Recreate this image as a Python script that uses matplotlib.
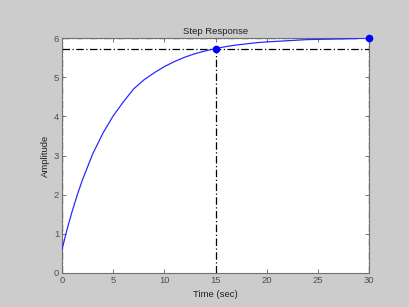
import matplotlib
matplotlib.use("Agg")
import matplotlib.pyplot as plt

# Data
time = [0, 0.5, 1, 1.5, 2, 3, 4, 5, 6, 7, 8, 9, 10, 11, 12, 13, 14, 15,
        16, 17, 18, 19, 20, 22, 24, 26, 28, 30]
amplitude = [0.60, 1.12, 1.58, 2.00, 2.38, 3.04, 3.57, 4.01, 4.37, 4.70, 4.93,
             5.11, 5.27, 5.40, 5.51, 5.60, 5.67, 5.73, 5.78, 5.82, 5.85, 5.88,
             5.90, 5.93, 5.96, 5.97, 5.98, 6.00]
settle_time, settle_value = 15, 5.73
final_time, final_value = 30, 6.00
xticks = [0, 5, 10, 15, 20, 25, 30]
yticks = [0, 1, 2, 3, 4, 5, 6]

plt.rcParams['font.family'] = ['Liberation Sans', 'DejaVu Sans']

fig = plt.figure(figsize=(4.09, 3.07), dpi=100, facecolor='#cccccc')
ax = fig.add_axes([62/409, 34/307, 307/409, 235/307])
ax.set_facecolor('white')

ax.plot(time, amplitude, color='#2a2aff', lw=0.9, zorder=3)

dash = dict(color='black', lw=0.9, ls=(0, (6, 2, 1, 2)), zorder=2)
ax.plot([0, final_time], [settle_value, settle_value], **dash)
ax.plot([0, final_time], [final_value, final_value], **dash)
ax.plot([settle_time, settle_time], [0, settle_value], **dash)
ax.plot([final_time, final_time], [0, final_value], **dash)
ax.plot([0, 0], [0, final_value], **dash)

ax.plot([settle_time, final_time], [settle_value, final_value], 'o',
        color='#0000ff', ms=4.5, zorder=4, clip_on=False)

ax.set_xlim(0, 30)
ax.set_ylim(0, 6)
ax.set_xticks(xticks)
ax.set_yticks(yticks)
ax.tick_params(direction='in', top=True, right=True, length=3, width=0.6,
               color='#606060', labelsize=6.8, labelcolor='#505050', pad=2)
for s in ax.spines.values():
    s.set_color('#707070')
    s.set_linewidth(0.8)

ax.set_title('Step Response', fontsize=6.8, color='#202020', pad=3)
ax.set_xlabel('Time (sec)', fontsize=6.8, color='#202020', labelpad=4)
ax.set_ylabel('Amplitude', fontsize=6.8, color='#202020', labelpad=3)

fig.savefig('out.png', dpi=100, facecolor=fig.get_facecolor())
